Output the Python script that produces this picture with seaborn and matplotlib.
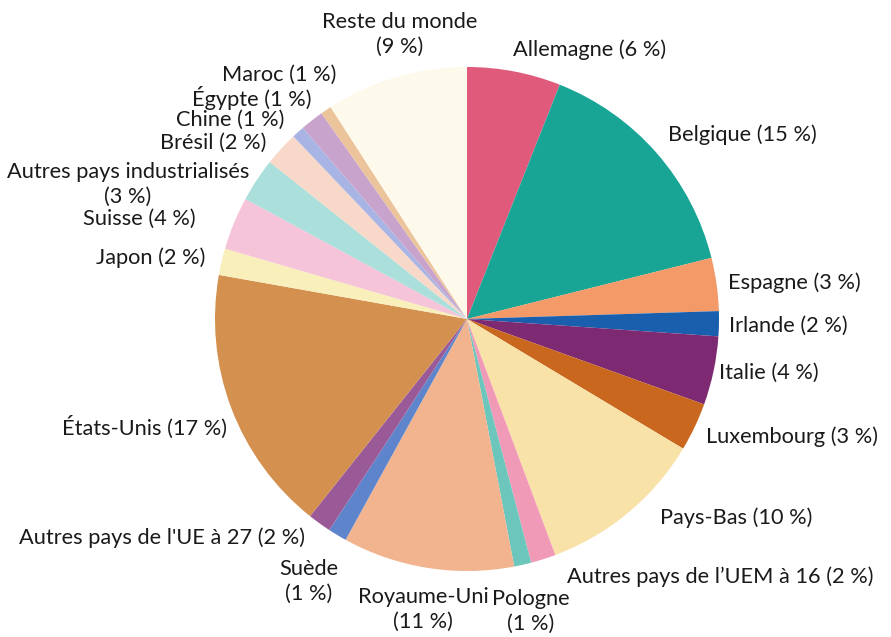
import matplotlib
matplotlib.use("Agg")
import matplotlib.pyplot as plt
import seaborn as sns

sns.set_theme(style="white")
plt.rcParams['font.family'] = ['Lato', 'DejaVu Sans']

# Data (clockwise from top), shares
countries = ["Allemagne", "Belgique", "Espagne", "Irlande", "Italie", "Luxembourg",
             "Pays-Bas", "Autres pays de l\u2019UEM à 16", "Pologne", "Royaume-Uni",
             "Suède", "Autres pays de l'UE à 27", "États-Unis", "Japon", "Suisse",
             "Autres pays industrialisés", "Brésil", "Chine", "Égypte", "Maroc",
             "Reste du monde"]
shares = [6.0, 15.1, 3.4, 1.6, 4.4, 3.1, 10.7, 1.6, 1.1, 11.0, 1.2, 1.5, 17.1,
          1.7, 3.4, 2.8, 2.2, 0.8, 1.5, 0.7, 9.1]
label_pct = [6, 15, 3, 2, 4, 3, 10, 2, 1, 11, 1, 2, 17, 2, 4, 3, 2, 1, 1, 1, 9]
colors = ["#e05a7c", "#18a596", "#f39a68", "#1a5fae", "#7e2a72", "#c9671f",
          "#f9e2a8", "#f09ab8", "#6cc6bc", "#f2b48e", "#5e84cc", "#9a5a98",
          "#d4904f", "#f8efbb", "#f6c4d8", "#aadfdc", "#f8d8c8", "#a8b4e4",
          "#c8a4cc", "#ecc49c", "#fdfaeb"]

W, H = 891, 637
fig = plt.figure(figsize=(W / 100, H / 100), dpi=100)
ax = fig.add_axes([0, 0, 1, 1])

cx, cy, r = 467, 319, 252
ax.pie(shares, colors=colors, startangle=90, counterclock=False,
       center=(cx, H - cy), radius=r, frame=True,
       wedgeprops=dict(linewidth=0))
ax.set_xlim(0, W)
ax.set_ylim(0, H)
ax.axis("off")

# label layout: (x, y, ha, multiline)
layout = [
    (513, 50, "left", False),
    (668, 135, "left", False),
    (728, 283, "left", False),
    (729, 326, "left", False),
    (719, 373, "left", False),
    (706, 437, "left", False),
    (660, 518, "left", False),
    (567, 577, "left", False),
    (531, 611, "center", True),
    (423, 609, "center", True),
    (309, 581, "center", True),
    (305, 538, "right", False),
    (227, 427, "right", False),
    (205, 258, "right", False),
    (196, 219, "right", False),
    (128, 184, "center", True),
    (266, 143, "right", False),
    (284, 120, "right", False),
    (311, 98, "right", False),
    (336, 75, "right", False),
    (400, 34, "center", True),
]
for name, p, (x, y, ha, ml) in zip(countries, label_pct, layout):
    sep = "\n" if ml else " "
    ax.text(x, H - y, f"{name}{sep}({p} %)", ha=ha, va="center",
            fontsize=15.7, color="#1a1a1a", linespacing=1.3,
            multialignment="center")

fig.savefig("out.png", dpi=100, facecolor="white")
